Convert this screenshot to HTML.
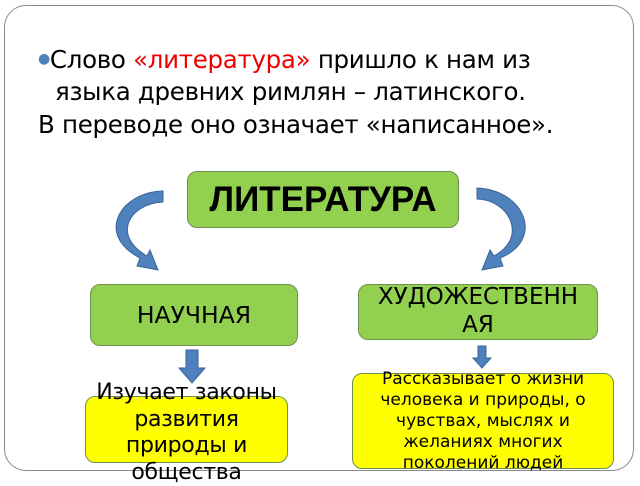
<!DOCTYPE html>
<html><head><meta charset="utf-8"><style>
body{margin:0;width:640px;height:480px;background:#fff;position:relative;overflow:hidden;font-family:"DejaVu Sans","Liberation Sans",sans-serif}
.frame{position:absolute;left:4px;top:5px;width:628px;height:464px;border:1.5px solid #8a8a8a;border-radius:22px}
.t{position:absolute;font-size:24.5px;color:#000;white-space:nowrap;letter-spacing:-0.3px}
.box{position:absolute;border:1.5px solid #6f8f52;border-radius:10px;display:flex;align-items:center;justify-content:center;text-align:center;box-sizing:border-box}
.g{background:#92d050}.y{background:#ffff00}
</style></head><body>
<div class="frame"></div>
<div class="t" style="left:38px;top:45px"><span style="color:#4f81bd;font-size:14px;position:relative;top:-5px">●</span>Слово <span style="color:#e00">«литература»</span> пришло к нам из</div>
<div class="t" style="left:55px;top:77px">языка древних римлян – латинского.</div>
<div class="t" style="left:38px;top:110px">В переводе оно означает «написанное».</div>
<svg width="640" height="480" style="position:absolute;left:0;top:0">
<g fill="#4f81bd" stroke="#3a6599" stroke-width="1">
<path d="M163,191 C120,192 95,235 140,258 L137,266 L158,270 L150,250 L147,256 C112,236 128,204 163,202 Z"/>
<path d="M477,188 C525,190 545,240 500,258 L503,266 L482,270 L490,250 L494,256 C528,238 510,200 477,199 Z"/>
<path d="M186,350 h12 v18 h7 l-13,15 l-13,-15 h7 Z"/>
<path d="M478,346 h8 v12 h5 l-9,10 l-9,-10 h5 Z"/>
</g></svg>
<div class="box g" style="left:187px;top:171px;width:272px;height:57px;font-family:'Liberation Sans',sans-serif;font-weight:bold;font-size:35px">ЛИТЕРАТУРА</div>
<div class="box g" style="left:90px;top:284px;width:208px;height:62px;font-size:23.5px">НАУЧНАЯ</div>
<div class="box g" style="left:358px;top:284px;width:240px;height:56px;font-size:23px;line-height:28px;padding-bottom:2px">ХУДОЖЕСТВЕНН<br>АЯ</div>
<div class="box y" style="left:85px;top:396px;width:203px;height:67px"></div>
<div class="t" style="left:75px;top:380px;width:223px;text-align:center;white-space:normal;font-size:22px;line-height:26.5px">Изучает законы<br>развития<br>природы и<br>общества</div>
<div class="box y" style="left:352px;top:373px;width:262px;height:96px;font-size:17px;line-height:21px;padding-top:1px">Рассказывает о жизни<br>человека и природы, о<br>чувствах, мыслях и<br>желаниях многих<br>поколений людей</div>
</body></html>
